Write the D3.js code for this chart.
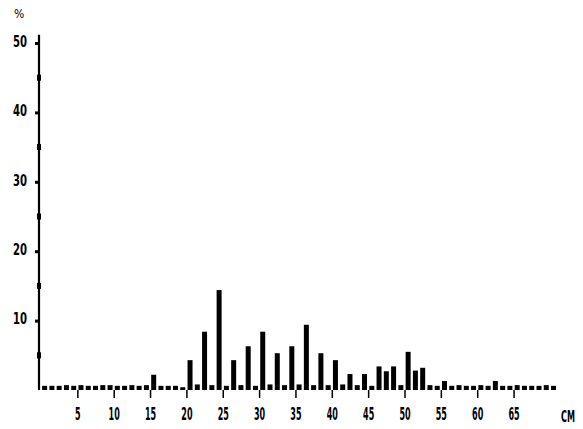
<!DOCTYPE html>
<html>
<head>
<meta charset="utf-8">
<script src="https://cdn.jsdelivr.net/npm/d3@7/dist/d3.min.js"></script>
<style>
  html, body { margin: 0; padding: 0; background: #fff; }
  svg text { font-family: "DejaVu Sans Condensed", "DejaVu Sans", sans-serif; fill: #000; }
</style>
</head>
<body>
<div id="chart"></div>
<script>
// length classes, 1 cm wide (class start in cm)
const lengthClasses = [
   0,  1,  2,  3,  4,  5,  6,  7,  8,  9,
  10, 11, 12, 13, 14, 15, 16, 17, 18, 19,
  20, 21, 22, 23, 24, 25, 26, 27, 28, 29,
  30, 31, 32, 33, 34, 35, 36, 37, 38, 39,
  40, 41, 42, 43, 44, 45, 46, 47, 48, 49,
  50, 51, 52, 53, 54, 55, 56, 57, 58, 59,
  60, 61, 62, 63, 64, 65, 66, 67, 68, 69, 70
];
// share of fish in each class, %
const percentValues = [
  0.6, 0.6, 0.6, 0.7, 0.6, 0.7, 0.6, 0.6, 0.7, 0.7,
  0.6, 0.6, 0.7, 0.6, 0.7, 2.2, 0.6, 0.6, 0.6, 0.4,
  4.3, 0.8, 8.4, 0.7, 14.4, 0.6, 4.3, 0.7, 6.3, 0.6,
  8.4, 0.8, 5.3, 0.7, 6.3, 0.8, 9.4, 0.7, 5.3, 0.7,
  4.3, 0.8, 2.3, 0.7, 2.3, 0.6, 3.4, 2.7, 3.4, 0.7,
  5.5, 2.8, 3.2, 0.7, 0.6, 1.3, 0.6, 0.7, 0.6, 0.6,
  0.7, 0.6, 1.3, 0.6, 0.6, 0.7, 0.6, 0.6, 0.6, 0.7, 0.6
];
const xTickLabels = [5, 10, 15, 20, 25, 30, 35, 40, 45, 50, 55, 60, 65];
const yTickLabels = [10, 20, 30, 40, 50];
const yMinorTicks = [5, 15, 25, 35, 45];

const width = 583, height = 429;

const svg = d3.select("#chart").append("svg")
  .attr("width", width)
  .attr("height", height);

// 0 cm at x=41, 7.27 px per cm
const x = d3.scaleLinear().domain([0, 70]).range([41, 41 + 70 * 7.27]);
// baseline at y=390, 50 % at y=43
const y = d3.scaleLinear().domain([0, 50]).range([390, 43]);

const bars = lengthClasses.map((c, i) => ({ cls: c, pct: percentValues[i] }));

// bars
svg.append("g")
  .selectAll("rect")
  .data(bars)
  .enter()
  .append("rect")
  .attr("x", d => x(d.cls + 0.5) - 2.5)
  .attr("width", 5)
  .attr("y", d => y(d.pct))
  .attr("height", d => y(0) - y(d.pct))
  .attr("fill", "#000");

// narrow, tall tick labels like the scanned print
function squeeze(sel, perChar) {
  sel.each(function () {
    const t = d3.select(this);
    t.attr("textLength", t.text().length * perChar)
     .attr("lengthAdjust", "spacingAndGlyphs");
  });
}

// x axis ticks (no domain line, the bars make the baseline)
const xAxis = svg.append("g")
  .attr("transform", `translate(0,${y(0)})`)
  .call(d3.axisBottom(x).tickValues(xTickLabels).tickSize(8).tickPadding(10));
xAxis.select(".domain").remove();
xAxis.selectAll(".tick line").attr("stroke", "#000").attr("stroke-width", 1.5);
xAxis.selectAll(".tick text")
  .attr("font-size", 17)
  .attr("font-weight", "bold")
  .style("font-family", "'DejaVu Sans Condensed', sans-serif")
  .call(squeeze, 5.6);

// y axis
const yAxis = svg.append("g")
  .attr("transform", "translate(39,0)")
  .call(d3.axisLeft(y).tickValues(yTickLabels).tickSize(4).tickPadding(8));
yAxis.select(".domain")
  .attr("d", `M0,${y(0)}V${y(51.2)}`)
  .attr("stroke", "#000")
  .attr("stroke-width", 2.2);
yAxis.selectAll(".tick line").attr("stroke", "#000").attr("stroke-width", 3);
yAxis.selectAll(".tick text")
  .attr("font-size", 16)
  .attr("font-weight", "bold")
  .attr("dy", "0.2em")
  .style("font-family", "'DejaVu Sans Condensed', sans-serif")
  .call(squeeze, 7);

// minor ticks at the 5s
svg.append("g")
  .selectAll("rect")
  .data(yMinorTicks)
  .enter()
  .append("rect")
  .attr("x", 37)
  .attr("y", d => y(d) - 3)
  .attr("width", 4)
  .attr("height", 6)
  .attr("fill", "#000");

// unit labels
svg.append("text")
  .attr("x", 14)
  .attr("y", 18)
  .attr("font-size", 12)
  .text("%");

svg.append("text")
  .attr("x", 561)
  .attr("y", 422)
  .attr("font-size", 15)
  .attr("font-weight", "bold")
  .attr("textLength", 14)
  .attr("lengthAdjust", "spacingAndGlyphs")
  .text("CM");
</script>
</body>
</html>
